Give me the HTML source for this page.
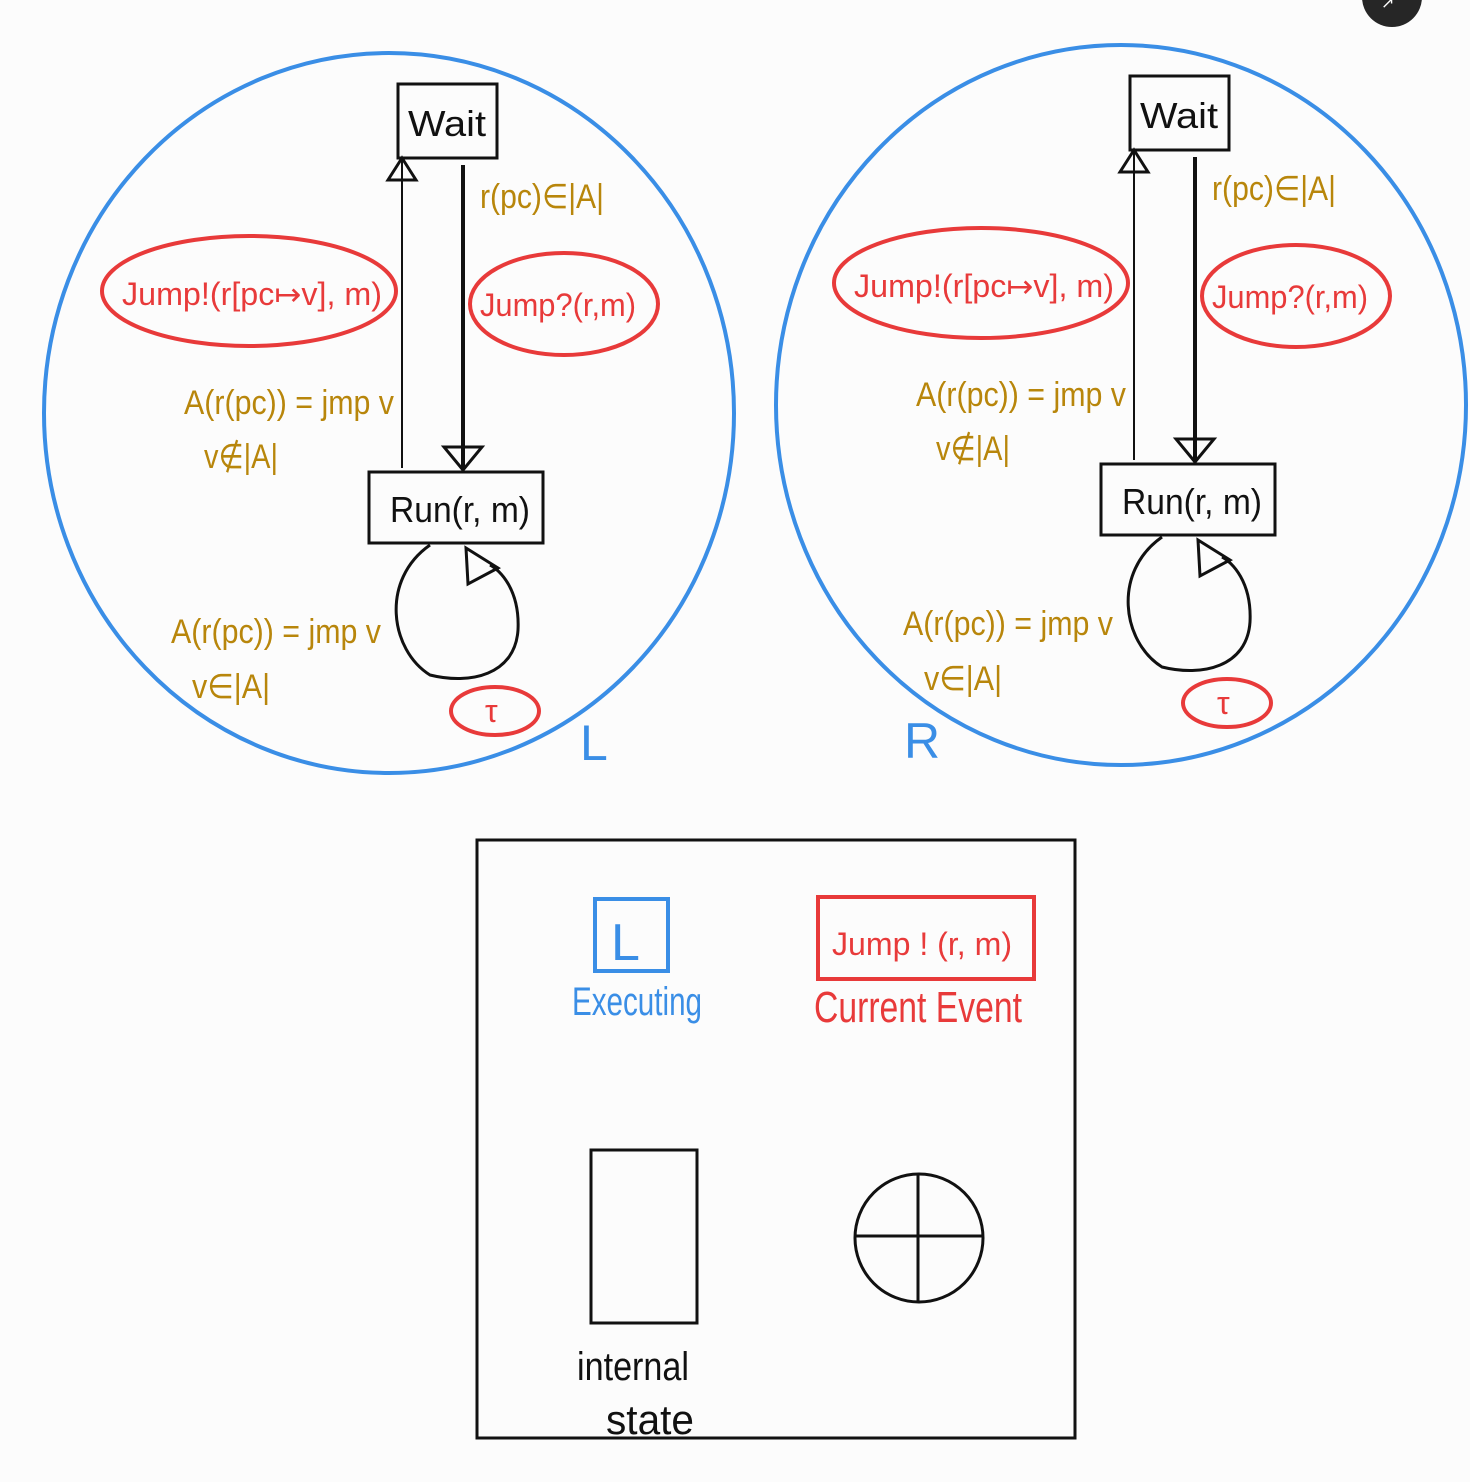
<!DOCTYPE html>
<html><head><meta charset="utf-8"><style>
html,body{margin:0;padding:0;background:#fcfcfc;}
svg{display:block;}
text{font-family:"Liberation Sans Narrow","Liberation Sans",sans-serif;}
.g{fill:#b8860b;font-size:34px;}
.r{fill:#e83a3a;font-size:32px;}
.k{fill:#111;font-size:36px;}
</style></head><body>
<svg id="s" width="1470" height="1482" viewBox="0 0 1470 1482">
<rect width="1470" height="1482" fill="#fcfcfc"/>
<g id="panels"></g>
<circle cx="1392" cy="-3" r="30" fill="#262626"/>
<text x="1381" y="8" fill="#fff" font-size="16">↗</text>

<g>
<rect x="477" y="840" width="598" height="598" fill="none" stroke="#111" stroke-width="3"/>
<rect x="595" y="899" width="73" height="72" fill="none" stroke="#3a8ee6" stroke-width="4"/>
<text x="611" y="960" fill="#3a8ee6" font-size="52">L</text>
<text x="572" y="1015" fill="#3a8ee6" font-size="40" textLength="130" lengthAdjust="spacingAndGlyphs">Executing</text>
<rect x="818" y="897" width="216" height="82" fill="none" stroke="#e83a3a" stroke-width="4"/>
<text x="832" y="955" class="r" font-size="38" textLength="180" lengthAdjust="spacingAndGlyphs">Jump ! (r, m)</text>
<text x="814" y="1022" fill="#e83a3a" font-size="44" textLength="208" lengthAdjust="spacingAndGlyphs">Current Event</text>
<rect x="591" y="1150" width="106" height="173" fill="none" stroke="#111" stroke-width="3"/>
<text x="577" y="1380" fill="#111" font-size="40" textLength="112" lengthAdjust="spacingAndGlyphs">internal</text>
<text x="606" y="1434" fill="#111" font-size="42" textLength="88" lengthAdjust="spacingAndGlyphs">state</text>
<g stroke="#111" stroke-width="3" fill="none">
<circle cx="919" cy="1238" r="64"/><line x1="855" y1="1236" x2="983" y2="1236"/><line x1="918" y1="1174" x2="918" y2="1302"/>
</g>
</g>
</svg>
<script>
function panel(dx,dy,label,nm){
return `<g transform="translate(${dx},${dy})">
<ellipse cx="389" cy="413" rx="345" ry="360" fill="none" stroke="#3a8ee6" stroke-width="4"/>
<rect x="398" y="84" width="99" height="74" fill="none" stroke="#111" stroke-width="3"/>
<text x="408" y="136" class="k" textLength="78" lengthAdjust="spacingAndGlyphs">Wait</text>
<line x1="402" y1="468" x2="402" y2="158" stroke="#111" stroke-width="2"/>
<polygon points="388,180 416,180 402,158" fill="none" stroke="#111" stroke-width="3"/>
<line x1="463" y1="165" x2="463" y2="468" stroke="#111" stroke-width="4"/>
<polygon points="444,447 482,447 463,470" fill="none" stroke="#111" stroke-width="3"/>
<rect x="369" y="472" width="174" height="71" fill="none" stroke="#111" stroke-width="3"/>
<text x="390" y="522" class="k" textLength="140" lengthAdjust="spacingAndGlyphs">Run(r, m)</text>
<path d="M430,545 C380,580 390,650 430,675 C470,685 515,675 518,630 C520,590 500,570 490,565" fill="none" stroke="#111" stroke-width="3"/>
<polygon points="466,548 498,568 468,584" fill="none" stroke="#111" stroke-width="3"/>
<ellipse cx="249" cy="291" rx="147" ry="55" fill="none" stroke="#e83a3a" stroke-width="4"/>
<text x="122" y="305" class="r" textLength="260" lengthAdjust="spacingAndGlyphs">Jump!(r[pc↦v], m)</text>
<ellipse cx="564" cy="304" rx="94" ry="51" fill="none" stroke="#e83a3a" stroke-width="4"/>
<text x="480" y="316" class="r" textLength="156" lengthAdjust="spacingAndGlyphs">Jump?(r,m)</text>
<text x="480" y="208" class="g" textLength="124" lengthAdjust="spacingAndGlyphs">r(pc)∈|A|</text>
<text x="184" y="414" class="g" textLength="210" lengthAdjust="spacingAndGlyphs">A(r(pc)) = jmp v</text>
<text x="204" y="468" class="g" textLength="74" lengthAdjust="spacingAndGlyphs">v∉|A|</text>
<text x="171" y="643" class="g" textLength="210" lengthAdjust="spacingAndGlyphs">A(r(pc)) = jmp v</text>
<text x="192" y="698" class="g" textLength="78" lengthAdjust="spacingAndGlyphs">v∈|A|</text>
<ellipse cx="495" cy="711" rx="44" ry="24" fill="none" stroke="#e83a3a" stroke-width="4"/>
<text x="485" y="722" class="r" font-size="28">τ</text>
</g>
<text x="${label==='L'?580:904}" y="${label==='L'?760:758}" fill="#3a8ee6" font-size="50">${label}</text>`;
}
document.getElementById('panels').innerHTML = panel(0,0,'L','left') + panel(732,-8,'R','right');
</script>
</body></html>
